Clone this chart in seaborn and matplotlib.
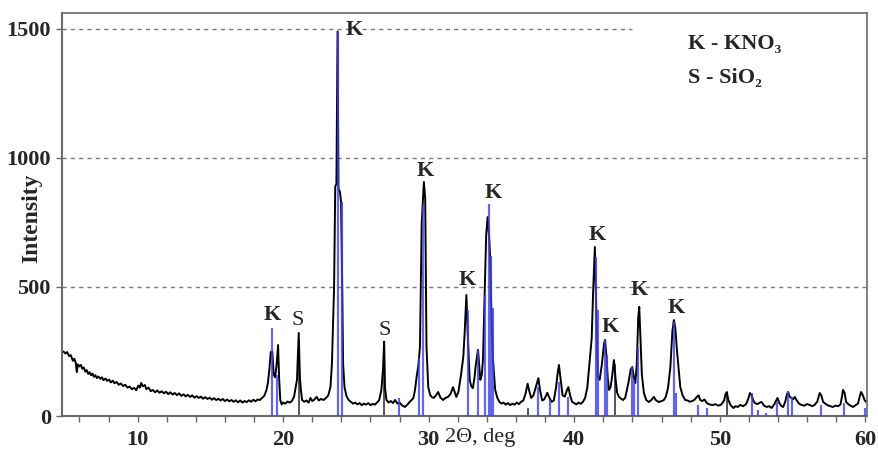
import numpy as np
import pandas as pd
import matplotlib
matplotlib.use('Agg')
import matplotlib.pyplot as plt
import seaborn as sns
from matplotlib.ticker import MultipleLocator

# measured diffraction scan: (2theta, counts)
scan = [
    (4.90, 250), (5.05, 242), (5.15, 248), (5.30, 232), (5.40, 236), (5.55, 214), (5.65, 222),
    (5.75, 205), (5.82, 170), (5.90, 200), (6.00, 192), (6.10, 198), (6.20, 183), (6.30, 188),
    (6.40, 172), (6.50, 178), (6.60, 163), (6.70, 170), (6.80, 158), (6.90, 164), (7.00, 152),
    (7.10, 158), (7.20, 147), (7.30, 153), (7.45, 144), (7.55, 150), (7.65, 139), (7.80, 145),
    (7.90, 136), (8.05, 141), (8.15, 130), (8.30, 137), (8.40, 127), (8.55, 132), (8.70, 121),
    (8.85, 126), (9.00, 116), (9.15, 121), (9.30, 110), (9.45, 114), (9.60, 104), (9.75, 109),
    (9.90, 100), (10.05, 118), (10.15, 110), (10.25, 128), (10.35, 115), (10.50, 120), (10.60, 104),
    (10.75, 110), (10.90, 96), (11.05, 101), (11.20, 92), (11.35, 99), (11.50, 90), (11.65, 96),
    (11.80, 88), (11.95, 94), (12.10, 85), (12.25, 92), (12.40, 83), (12.55, 89), (12.70, 81),
    (12.85, 88), (13.00, 78), (13.15, 84), (13.30, 76), (13.45, 82), (13.60, 74), (13.75, 80),
    (13.90, 71), (14.05, 77), (14.20, 70), (14.35, 75), (14.50, 67), (14.65, 73), (14.80, 66),
    (14.95, 71), (15.10, 63), (15.25, 69), (15.40, 62), (15.55, 67), (15.70, 60), (15.85, 66),
    (16.00, 58), (16.15, 64), (16.30, 57), (16.45, 62), (16.60, 55), (16.75, 61), (16.90, 53),
    (17.05, 60), (17.20, 52), (17.35, 58), (17.50, 54), (17.65, 61), (17.80, 55), (17.95, 63),
    (18.10, 57), (18.25, 64), (18.40, 62), (18.55, 70), (18.70, 78), (18.85, 100), (18.95, 128),
    (19.05, 180), (19.15, 248), (19.25, 250), (19.35, 160), (19.45, 150), (19.55, 200), (19.65, 275),
    (19.72, 150), (19.80, 62), (19.90, 45), (20.00, 52), (20.15, 48), (20.30, 56), (20.45, 52),
    (20.60, 58), (20.75, 75), (20.85, 108), (20.95, 140), (21.07, 322), (21.15, 150), (21.22, 101),
    (21.30, 62), (21.45, 55), (21.60, 60), (21.75, 52), (21.87, 70), (22.00, 58), (22.15, 64),
    (22.30, 74), (22.45, 60), (22.60, 66), (22.78, 62), (22.95, 70), (23.10, 80), (23.25, 112),
    (23.35, 200), (23.50, 500), (23.58, 890), (23.66, 900), (23.74, 1490), (23.80, 880), (23.90, 870),
    (23.98, 830), (24.05, 540), (24.12, 200), (24.22, 110), (24.35, 78), (24.50, 62), (24.65, 55),
    (24.80, 48), (24.95, 52), (25.10, 45), (25.25, 50), (25.40, 42), (25.55, 48), (25.70, 44),
    (25.85, 50), (26.00, 42), (26.15, 47), (26.30, 44), (26.45, 52), (26.60, 62), (26.75, 101),
    (26.86, 180), (26.94, 288), (27.00, 108), (27.10, 62), (27.25, 52), (27.40, 58), (27.55, 50),
    (27.69, 62), (27.85, 48), (28.00, 52), (28.20, 40), (28.37, 35), (28.55, 45), (28.70, 55),
    (28.83, 62), (28.95, 70), (29.06, 101), (29.17, 151), (29.30, 200), (29.40, 268), (29.52, 748),
    (29.67, 907), (29.76, 845), (29.85, 268), (29.97, 112), (30.10, 82), (30.20, 74), (30.35, 70),
    (30.50, 80), (30.65, 93), (30.80, 72), (30.99, 62), (31.15, 70), (31.33, 74), (31.50, 85),
    (31.67, 112), (31.80, 90), (31.90, 74), (32.05, 95), (32.24, 167), (32.38, 230), (32.47, 320),
    (32.59, 469), (32.70, 295), (32.82, 140), (32.93, 115), (33.04, 108), (33.15, 150), (33.22, 190),
    (33.32, 230), (33.39, 256), (33.47, 200), (33.55, 140), (33.65, 160), (33.73, 217), (33.84, 461),
    (33.95, 700), (34.05, 771), (34.15, 700), (34.22, 617), (34.30, 423), (34.41, 225), (34.57, 101),
    (34.72, 70), (34.87, 54), (35.00, 48), (35.15, 52), (35.30, 44), (35.45, 50), (35.60, 42),
    (35.75, 48), (35.90, 44), (36.05, 52), (36.20, 46), (36.35, 55), (36.50, 60), (36.65, 85),
    (36.80, 125), (36.92, 95), (37.05, 70), (37.20, 80), (37.35, 110), (37.54, 147), (37.65, 100),
    (37.80, 60), (37.95, 65), (38.15, 90), (38.30, 70), (38.45, 55), (38.60, 60), (38.75, 110),
    (38.85, 160), (38.95, 198), (39.05, 150), (39.20, 80), (39.35, 75), (39.50, 100), (39.60, 112),
    (39.72, 80), (39.85, 55), (40.00, 50), (40.15, 45), (40.30, 52), (40.45, 47), (40.60, 55),
    (40.75, 70), (40.90, 110), (41.05, 205), (41.20, 300), (41.30, 480), (41.42, 655), (41.52, 403),
    (41.62, 151), (41.75, 140), (41.90, 200), (42.05, 280), (42.12, 295), (42.22, 230), (42.30, 150),
    (42.39, 101), (42.50, 112), (42.62, 160), (42.73, 217), (42.85, 140), (42.95, 90), (43.08, 74),
    (43.20, 68), (43.35, 62), (43.50, 70), (43.62, 100), (43.76, 140), (43.88, 180), (43.99, 190),
    (44.10, 150), (44.20, 128), (44.30, 200), (44.40, 380), (44.47, 423), (44.56, 295), (44.65, 160),
    (44.79, 89), (44.95, 62), (45.13, 54), (45.30, 62), (45.47, 74), (45.60, 62), (45.81, 54),
    (46.00, 58), (46.16, 62), (46.30, 75), (46.45, 110), (46.61, 190), (46.75, 330), (46.85, 372),
    (46.95, 340), (47.06, 256), (47.18, 180), (47.29, 112), (47.45, 80), (47.63, 62), (47.80, 60),
    (47.95, 55), (48.10, 58), (48.25, 62), (48.43, 74), (48.55, 80), (48.66, 62), (48.80, 58),
    (48.95, 64), (49.12, 50), (49.30, 45), (49.50, 42), (49.70, 46), (49.90, 40), (50.10, 44),
    (50.30, 60), (50.40, 85), (50.49, 93), (50.60, 60), (50.75, 42), (50.94, 31), (51.10, 38),
    (51.25, 35), (51.40, 43), (51.60, 38), (51.80, 45), (51.95, 65), (52.08, 89), (52.20, 80),
    (52.30, 60), (52.42, 50), (52.60, 46), (52.75, 52), (52.88, 54), (53.05, 40), (53.22, 35),
    (53.40, 38), (53.56, 31), (53.75, 45), (53.90, 62), (53.97, 70), (54.10, 50), (54.25, 38),
    (54.36, 35), (54.50, 55), (54.63, 85), (54.70, 93), (54.80, 75), (54.93, 70), (55.05, 65),
    (55.16, 74), (55.30, 60), (55.45, 48), (55.61, 43), (55.80, 40), (56.00, 46), (56.18, 43),
    (56.35, 38), (56.50, 42), (56.70, 55), (56.87, 89), (56.98, 80), (57.10, 55), (57.21, 50),
    (57.40, 42), (57.60, 38), (57.78, 35), (57.95, 40), (58.15, 38), (58.30, 45), (58.40, 75),
    (58.47, 101), (58.58, 90), (58.69, 54), (58.85, 45), (59.00, 40), (59.15, 35), (59.35, 42),
    (59.50, 48), (59.62, 75), (59.72, 93), (59.84, 80), (59.95, 62), (60.05, 55),
]

# reference lines, KNO3
kno3_pos = [19.25, 19.55, 23.74, 24.04, 27.98, 29.33, 29.62, 32.70, 33.39, 33.88, 34.14, 34.28,
            34.42, 37.54, 38.33, 38.93, 39.59, 41.48, 41.64, 42.12, 42.28, 43.99, 44.10, 44.39,
            46.88, 47.02, 48.51, 49.12, 52.20, 52.65, 53.17, 53.97, 54.66, 55.00, 56.98, 58.53, 59.95]
kno3_int = [341, 159, 1490, 830, 70, 224, 818, 411, 256, 470, 822, 620,
            420, 112, 62, 132, 75, 617, 411, 295, 236, 190, 140, 268,
            364, 89, 43, 31, 89, 23, 12, 54, 93, 74, 43, 50, 31]

# reference lines, SiO2
sio2_pos = [21.07, 26.94, 36.85, 42.78, 50.49]
sio2_int = [300, 270, 30, 200, 85]

# phase marks above peaks
mark_text = ['K', 'S', 'K', 'S', 'K', 'K', 'K', 'K', 'K', 'K', 'K']
mark_x = [19.24, 21.0, 24.87, 26.95, 29.74, 32.63, 34.41, 41.59, 42.48, 44.47, 46.99]
mark_y = [372, 353, 1477, 314, 930, 508, 845, 682, 326, 469, 399]

df = pd.DataFrame(scan, columns=['two_theta', 'counts'])

sns.set_style('white')
plt.rcParams['font.family'] = ['Liberation Serif', 'DejaVu Serif']

fig, ax = plt.subplots(figsize=(8.79, 4.54), dpi=100)
fig.subplots_adjust(left=0.0705, right=0.986, bottom=0.0837, top=0.9714)

grid_kw = dict(color='#7a7a7a', lw=1.0, linestyles=(0, (3, 3)), zorder=0)
ax.hlines([500, 1000], 4.8, 60.1, **grid_kw)
ax.hlines(1500, 4.8, 44.0, **grid_kw)

ax.vlines(sio2_pos, 0, sio2_int, color='#555555', lw=1.4, zorder=1)
sns.lineplot(data=df, x='two_theta', y='counts', color='black', lw=1.4,
             sort=False, estimator=None, ax=ax, zorder=2)
ax.vlines(kno3_pos, 0, kno3_int, color=(0.25, 0.25, 0.88), alpha=0.8, lw=1.6, zorder=3)

for t, x, y in zip(mark_text, mark_x, mark_y):
    ax.text(x, y, t, ha='center', va='baseline', fontsize=16,
            fontweight='bold' if t == 'K' else 'normal')

ax.text(0.778, 0.911, 'K - KNO₃', transform=ax.transAxes, fontsize=16, fontweight='bold')
ax.text(0.778, 0.826, 'S - SiO₂', transform=ax.transAxes, fontsize=16, fontweight='bold')

ax.set_xlim(4.8, 60.1)
ax.set_ylim(0, 1562)
ax.xaxis.set_major_locator(MultipleLocator(10))
ax.xaxis.set_minor_locator(MultipleLocator(2))
ax.set_yticks([0, 500, 1000, 1500])

ax.tick_params(axis='both', which='both', direction='out', length=4, width=1,
               color='#666666', bottom=True, left=True)
ax.tick_params(axis='x', which='major', pad=6, labelsize=16)
ax.tick_params(axis='y', pad=4, labelsize=16)
for lab in ax.get_xticklabels() + ax.get_yticklabels():
    lab.set_fontweight('bold')

for side, sp in ax.spines.items():
    sp.set_color('#6a6a6a')
    sp.set_linewidth(1.5 if side in ('left', 'bottom') else 1.2)

ax.set_xlabel('2Θ, deg', fontsize=16)
ax.xaxis.set_label_coords(0.52, -0.03)
ax.set_ylabel('Intensity', fontsize=17, fontweight='bold')
ax.yaxis.set_label_coords(-0.025, 0.49)

fig.savefig('out.png', dpi=100)
